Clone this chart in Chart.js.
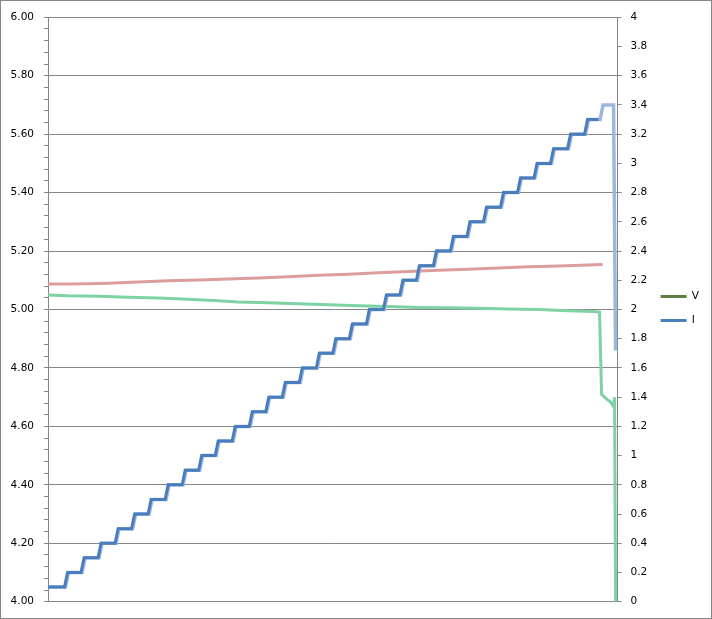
<!DOCTYPE html>
<html>
<head>
<meta charset="utf-8">
<script src="https://cdn.jsdelivr.net/npm/chart.js@4.4.1/dist/chart.umd.min.js"></script>
<style>
  html, body { margin: 0; padding: 0; background: #fff; }
  #wrap { width: 710px; height: 617px; border: 1px solid #868686; }
  canvas { display: block; }
</style>
</head>
<body>
<div id="wrap"><canvas id="chart" width="710" height="617"></canvas></div>
<script>
/* ---------- Data (time in s, V on left axis, I in A on right axis) ---------- */
const runEnd = 569;

// current steps, run A (dark blue)
const iLevels = [0.1, 0.2, 0.3, 0.4, 0.5, 0.6, 0.7, 0.8, 0.9, 1.0, 1.1,
                 1.2, 1.3, 1.4, 1.5, 1.6, 1.7, 1.8, 1.9, 2.0, 2.1, 2.2,
                 2.3, 2.4, 2.5, 2.6, 2.7, 2.8, 2.9, 3.0, 3.1, 3.2, 3.3];
const iRiseTimes = [16.5, 33, 50, 67, 83.5, 100, 117, 134, 150.5, 167, 184,
                    201, 217.5, 234, 251, 268, 284.5, 301, 318, 335, 351.5,
                    368, 385, 402, 418.5, 435, 452, 469, 485.5, 502, 519, 536];
const iRiseDuration = 3;
const iEndTime = 550;

// current steps, run B (light blue), logged slightly later and ending with a trip
const iBLag = 1;
const iBTailTimes = [551.5, 554.5, 565, 567];
const iBTailValues = [3.3, 3.4, 3.4, 1.72];

// red voltage trace
const vRedTimes = [0, 20, 40, 60, 90, 120, 150, 180, 210, 240, 270, 300,
                   330, 360, 390, 420, 450, 480, 510, 540, 554];
const vRedValues = [5.087, 5.087, 5.088, 5.090, 5.094, 5.098, 5.101, 5.104,
                    5.108, 5.112, 5.117, 5.121, 5.126, 5.130, 5.134, 5.138,
                    5.142, 5.146, 5.149, 5.152, 5.154];

// green voltage trace
const vGreenTimes = [0, 20, 50, 80, 110, 140, 170, 190, 220, 250, 280, 310,
                     340, 370, 400, 430, 460, 490, 520, 545, 551, 553, 557,
                     562, 565, 566, 567];
const vGreenValues = [5.050, 5.047, 5.045, 5.042, 5.039, 5.035, 5.030, 5.026,
                      5.023, 5.020, 5.016, 5.013, 5.010, 5.007, 5.006, 5.004,
                      5.002, 5.000, 4.996, 4.993, 4.991, 4.710, 4.697, 4.683,
                      4.668, 4.700, 4.000];

/* ---------- Helpers ---------- */
const gray = "#868686";

function zip(times, values) {
    return times.map((t, i) => ({ x: t, y: values[i] }));
}

function stepPoints(lag) {
    const pts = [{ x: 0, y: iLevels[0] }];
    iRiseTimes.forEach((t, k) => {
        pts.push({ x: t + lag, y: iLevels[k] });
        pts.push({ x: t + lag + iRiseDuration, y: iLevels[k + 1] });
    });
    return pts;
}

const iRunA = stepPoints(0).concat([{ x: iEndTime, y: iLevels[iLevels.length - 1] }]);
const iRunB = stepPoints(iBLag).concat(zip(iBTailTimes, iBTailValues));

function isMajor(v) {
    return Math.abs(v * 5 - Math.round(v * 5)) < 1e-6;
}

/* ---------- Chart ---------- */
Chart.defaults.font.family = "'DejaVu Sans', Verdana, sans-serif";
Chart.defaults.font.size = 10.5;
Chart.defaults.color = "#000";

const lineStyle = { tension: 0, pointRadius: 0, borderWidth: 3, fill: false, xAxisID: "x" };

new Chart(document.getElementById("chart"), {
    type: "line",
    data: {
        datasets: [
            { ...lineStyle, label: "V", data: [], borderColor: "#5f8040", backgroundColor: "#5f8040", yAxisID: "yV", order: -1 },
            { ...lineStyle, label: "I", data: iRunA, borderColor: "#4a7dbd", backgroundColor: "#4a7dbd", yAxisID: "yI", order: 0 },
            { ...lineStyle, label: "I2", data: iRunB, borderColor: "#9bb8de", borderWidth: 3.5, yAxisID: "yI", order: 1 },
            { ...lineStyle, label: "V2", data: zip(vRedTimes, vRedValues), borderColor: "#dc9e9c", yAxisID: "yV", order: 2 },
            { ...lineStyle, label: "V1", data: zip(vGreenTimes, vGreenValues), borderColor: "#7dd3a3", yAxisID: "yV", order: 3 }
        ]
    },
    options: {
        responsive: false,
        animation: false,
        devicePixelRatio: 1,
        layout: { padding: { top: 13, bottom: 15, left: 0, right: 2 } },
        plugins: {
            tooltip: { enabled: false },
            legend: {
                position: "right",
                labels: {
                    filter: item => item.text === "V" || item.text === "I",
                    usePointStyle: true,
                    pointStyle: "line",
                    pointStyleWidth: 26,
                    boxWidth: 26,
                    padding: 13.5,
                    color: "#000"
                }
            }
        },
        scales: {
            x: {
                type: "linear",
                min: 0,
                max: runEnd,
                ticks: { display: false },
                grid: { display: false },
                border: { color: gray },
                afterFit: s => { s.height = 0; }
            },
            yV: {
                position: "left",
                min: 4,
                max: 6,
                ticks: {
                    stepSize: 0.04,
                    autoSkip: false,
                    padding: 10,
                    callback: v => isMajor(v) ? v.toFixed(2) : ""
                },
                grid: {
                    color: c => isMajor(c.tick.value) ? gray : "rgba(0,0,0,0)",
                    tickColor: gray,
                    tickLength: 4
                },
                border: { color: gray },
                afterFit: s => { s.width = 47; }
            },
            yI: {
                position: "right",
                min: 0,
                max: 4,
                ticks: {
                    stepSize: 0.2,
                    autoSkip: false,
                    padding: 9,
                    callback: v => String(+v.toFixed(1))
                },
                grid: { drawOnChartArea: false, tickColor: gray, tickLength: 4 },
                border: { color: gray },
                afterFit: s => { s.width = 29.5; }
            }
        }
    }
});
</script>
</body>
</html>
